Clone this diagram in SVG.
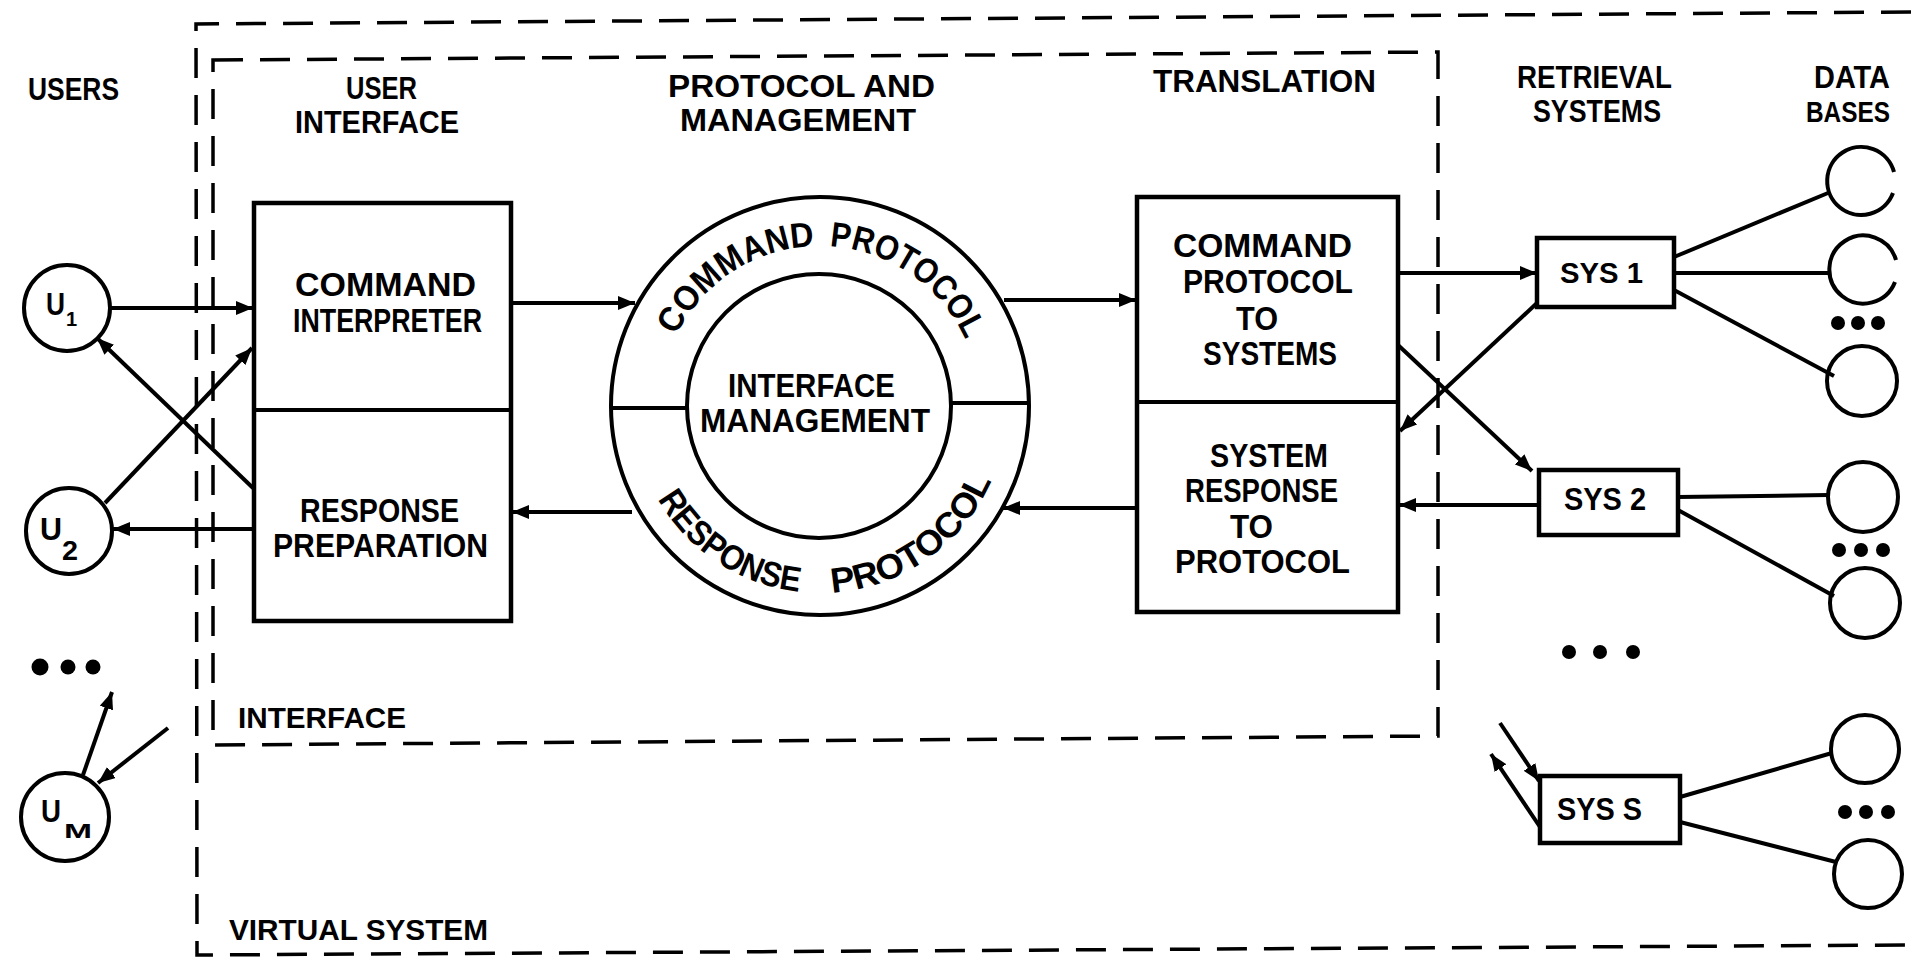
<svg xmlns="http://www.w3.org/2000/svg" width="1911" height="959" viewBox="0 0 1911 959">
  <style>
    .solid { fill: none; stroke: #000; stroke-width: 4; stroke-linejoin: miter; }
    .box { fill: #fff; stroke: #000; stroke-width: 4.5; }
    .dash { fill: none; stroke: #000; stroke-width: 3.5; stroke-dasharray: 30 17; }
    .conn { fill: none; stroke: #000; stroke-width: 4; }
    .dot { fill: #000; }
    .t { font-family: "Liberation Sans", Arial, sans-serif; font-weight: bold; fill: #000; }
    .hd { font-size: 32px; }
    .bx { font-size: 34px; }
    .sm { font-size: 30px; }
  </style>
  <defs>
    <marker id="arrow" markerUnits="userSpaceOnUse" markerWidth="18" markerHeight="14" refX="17" refY="7" orient="auto">
      <path d="M0,0 L17,7 L0,14 z" fill="#000"/>
    </marker>
    <!-- baseline arcs for the ring lettering -->
    <path id="arcTop" d="M669.6,351.3 A160,160 0 0 1 974.5,364.6"/>
    <path id="arcBot" d="M650.5,485 A187,187 0 0 0 1000.6,454.4"/>
  </defs>

  <!-- boundary frames -->
  <g id="virtual-system">
    <path class="dash" d="M1911,12 L196,24 L197,955 L1911,945"/>
    <text class="t sm" x="229" y="940" textLength="259" lengthAdjust="spacingAndGlyphs">VIRTUAL SYSTEM</text>
  </g>
  <g id="interface-frame">
    <path class="dash" d="M213,60 L1438,52 L1438,736 L213,745 Z"/>
    <text class="t sm" x="238" y="728" textLength="168" lengthAdjust="spacingAndGlyphs">INTERFACE</text>
  </g>

  <!-- column headings -->
  <g id="headings" class="t hd">
    <text x="28" y="100" textLength="91" lengthAdjust="spacingAndGlyphs">USERS</text>
    <text x="346" y="99" textLength="71" lengthAdjust="spacingAndGlyphs">USER</text>
    <text x="295" y="133" textLength="164" lengthAdjust="spacingAndGlyphs">INTERFACE</text>
    <text x="668" y="97" textLength="267" lengthAdjust="spacingAndGlyphs">PROTOCOL AND</text>
    <text x="680" y="131" textLength="236" lengthAdjust="spacingAndGlyphs">MANAGEMENT</text>
    <text x="1153" y="92" textLength="223" lengthAdjust="spacingAndGlyphs">TRANSLATION</text>
    <text x="1517" y="88" textLength="155" lengthAdjust="spacingAndGlyphs">RETRIEVAL</text>
    <text x="1533" y="122" textLength="128" lengthAdjust="spacingAndGlyphs">SYSTEMS</text>
    <text x="1814" y="88" textLength="76" lengthAdjust="spacingAndGlyphs">DATA</text>
    <text x="1806" y="122" font-size="29" textLength="84" lengthAdjust="spacingAndGlyphs">BASES</text>
  </g>

  <!-- users -->
  <g id="user-1">
    <circle class="solid" cx="67" cy="308" r="43"/>
    <text class="t" x="46" y="315" font-size="32" textLength="19" lengthAdjust="spacingAndGlyphs">U</text>
    <text class="t" x="66" y="326" font-size="20">1</text>
  </g>
  <g id="user-2">
    <circle class="solid" cx="69" cy="531" r="43"/>
    <text class="t" x="40" y="540" font-size="32" textLength="22" lengthAdjust="spacingAndGlyphs">U</text>
    <text class="t" x="62" y="560" font-size="27" textLength="16" lengthAdjust="spacingAndGlyphs">2</text>
  </g>
  <g id="user-more">
    <circle class="dot" cx="40" cy="667" r="8.5"/>
    <circle class="dot" cx="68" cy="667" r="7.5"/>
    <circle class="dot" cx="93" cy="667" r="7.5"/>
  </g>
  <g id="user-m">
    <circle class="solid" cx="65" cy="817" r="44"/>
    <text class="t" x="41" y="822" font-size="32" textLength="20" lengthAdjust="spacingAndGlyphs">U</text>
    <text class="t" x="64" y="838" font-size="21" textLength="28" lengthAdjust="spacingAndGlyphs">M</text>
  </g>

  <!-- user interface box -->
  <g id="user-interface">
    <rect class="box" x="254" y="203" width="257" height="418"/>
    <line class="solid" x1="254" y1="410" x2="511" y2="410"/>
    <text class="t bx" x="295" y="296" textLength="181" lengthAdjust="spacingAndGlyphs">COMMAND</text>
    <text class="t bx" x="293" y="332" textLength="189" lengthAdjust="spacingAndGlyphs">INTERPRETER</text>
    <text class="t bx" x="300" y="522" textLength="159" lengthAdjust="spacingAndGlyphs">RESPONSE</text>
    <text class="t bx" x="273" y="557" textLength="215" lengthAdjust="spacingAndGlyphs">PREPARATION</text>
  </g>

  <!-- protocol and management ring -->
  <g id="protocol-ring">
    <circle class="solid" cx="820" cy="406" r="209"/>
    <circle class="solid" cx="819" cy="406" r="132"/>
    <line class="solid" x1="611" y1="408" x2="687" y2="408"/>
    <line class="solid" x1="951" y1="403" x2="1029" y2="403"/>
    <text class="t" font-size="35"><textPath href="#arcTop" startOffset="17" textLength="173" lengthAdjust="spacingAndGlyphs">COMMAND</textPath></text>
    <text class="t" font-size="35"><textPath href="#arcTop" startOffset="205" textLength="173" lengthAdjust="spacingAndGlyphs">PROTOCOL</textPath></text>
    <text class="t" font-size="35"><textPath href="#arcBot" startOffset="16" textLength="175" lengthAdjust="spacingAndGlyphs">RESPONSE</textPath></text>
    <text class="t" font-size="35"><textPath href="#arcBot" startOffset="224" textLength="205" lengthAdjust="spacingAndGlyphs">PROTOCOL</textPath></text>
    <text class="t" x="728" y="397" font-size="33" textLength="167" lengthAdjust="spacingAndGlyphs">INTERFACE</text>
    <text class="t" x="700" y="432" font-size="34" textLength="230" lengthAdjust="spacingAndGlyphs">MANAGEMENT</text>
  </g>

  <!-- translation box -->
  <g id="translation">
    <rect class="box" x="1137" y="197" width="261" height="415"/>
    <line class="solid" x1="1137" y1="402" x2="1398" y2="402"/>
    <text class="t bx" x="1173" y="257" font-size="35" textLength="179" lengthAdjust="spacingAndGlyphs">COMMAND</text>
    <text class="t bx" x="1183" y="293" textLength="170" lengthAdjust="spacingAndGlyphs">PROTOCOL</text>
    <text class="t bx" x="1236" y="330" textLength="42" lengthAdjust="spacingAndGlyphs">TO</text>
    <text class="t bx" x="1203" y="365" textLength="134" lengthAdjust="spacingAndGlyphs">SYSTEMS</text>
    <text class="t bx" x="1210" y="467" textLength="118" lengthAdjust="spacingAndGlyphs">SYSTEM</text>
    <text class="t bx" x="1185" y="502" textLength="153" lengthAdjust="spacingAndGlyphs">RESPONSE</text>
    <text class="t bx" x="1230" y="538" textLength="43" lengthAdjust="spacingAndGlyphs">TO</text>
    <text class="t bx" x="1175" y="573" textLength="175" lengthAdjust="spacingAndGlyphs">PROTOCOL</text>
  </g>

  <!-- retrieval systems -->
  <g id="sys-1">
    <rect class="box" x="1537" y="238" width="137" height="69"/>
    <text class="t" x="1560" y="283" font-size="30" textLength="83" lengthAdjust="spacingAndGlyphs">SYS 1</text>
  </g>
  <g id="sys-2">
    <rect class="box" x="1539" y="470" width="139" height="65"/>
    <text class="t" x="1564" y="510" font-size="31" textLength="82" lengthAdjust="spacingAndGlyphs">SYS 2</text>
  </g>
  <g id="sys-more">
    <circle class="dot" cx="1569" cy="652" r="7"/>
    <circle class="dot" cx="1600" cy="652" r="7"/>
    <circle class="dot" cx="1633" cy="652" r="7"/>
  </g>
  <g id="sys-s">
    <rect class="box" x="1540" y="776" width="140" height="67"/>
    <text class="t" x="1557" y="820" font-size="32" textLength="85" lengthAdjust="spacingAndGlyphs">SYS S</text>
  </g>

  <!-- data bases -->
  <g id="db-1-1"><path class="solid" d="M1894,172 A34,34 0 1 0 1893,193"/></g>
  <g id="db-1-2"><path class="solid" d="M1896,260 A34,34 0 1 0 1895,282"/></g>
  <g id="db-1-more">
    <circle class="dot" cx="1838" cy="323" r="7"/>
    <circle class="dot" cx="1858" cy="323" r="7"/>
    <circle class="dot" cx="1878" cy="323" r="7"/>
  </g>
  <g id="db-1-n"><circle class="solid" cx="1862" cy="381" r="35"/></g>
  <g id="db-2-1"><circle class="solid" cx="1863" cy="497" r="35"/></g>
  <g id="db-2-more">
    <circle class="dot" cx="1839" cy="550" r="7"/>
    <circle class="dot" cx="1861" cy="550" r="7"/>
    <circle class="dot" cx="1883" cy="550" r="7"/>
  </g>
  <g id="db-2-n"><circle class="solid" cx="1865" cy="603" r="35"/></g>
  <g id="db-s-1"><circle class="solid" cx="1865" cy="749" r="34"/></g>
  <g id="db-s-more">
    <circle class="dot" cx="1845" cy="812" r="7"/>
    <circle class="dot" cx="1866" cy="812" r="7"/>
    <circle class="dot" cx="1888" cy="812" r="7"/>
  </g>
  <g id="db-s-n"><circle class="solid" cx="1868" cy="874" r="34"/></g>

  <!-- connectors -->
  <g id="connectors" class="conn">
    <line x1="110" y1="308" x2="253" y2="308" marker-end="url(#arrow)"/>
    <line x1="105" y1="503" x2="252" y2="348" marker-end="url(#arrow)"/>
    <line x1="253" y1="488" x2="97" y2="338" marker-end="url(#arrow)"/>
    <line x1="253" y1="529" x2="113" y2="529" marker-end="url(#arrow)"/>
    <line x1="511" y1="303" x2="635" y2="303" marker-end="url(#arrow)"/>
    <line x1="632" y1="512" x2="512" y2="512" marker-end="url(#arrow)"/>
    <line x1="1004" y1="300" x2="1136" y2="300" marker-end="url(#arrow)"/>
    <line x1="1137" y1="508" x2="1003" y2="508" marker-end="url(#arrow)"/>
    <line x1="1398" y1="273" x2="1537" y2="273" marker-end="url(#arrow)"/>
    <line x1="1398" y1="345" x2="1532" y2="471" marker-end="url(#arrow)"/>
    <line x1="1537" y1="303" x2="1400" y2="431" marker-end="url(#arrow)"/>
    <line x1="1539" y1="505" x2="1399" y2="505" marker-end="url(#arrow)"/>
    <line x1="83" y1="775" x2="112" y2="692" marker-end="url(#arrow)"/>
    <line x1="168" y1="728" x2="98" y2="783" marker-end="url(#arrow)"/>
    <line x1="1500" y1="723" x2="1539" y2="781" marker-end="url(#arrow)"/>
    <line x1="1540" y1="827" x2="1491" y2="754" marker-end="url(#arrow)"/>
    <line x1="1674" y1="257" x2="1828" y2="193"/>
    <line x1="1674" y1="273" x2="1829" y2="273"/>
    <line x1="1674" y1="290" x2="1834" y2="376"/>
    <line x1="1678" y1="497" x2="1828" y2="495"/>
    <line x1="1678" y1="510" x2="1834" y2="596"/>
    <line x1="1680" y1="797" x2="1832" y2="753"/>
    <line x1="1680" y1="822" x2="1836" y2="862"/>
  </g>
</svg>
